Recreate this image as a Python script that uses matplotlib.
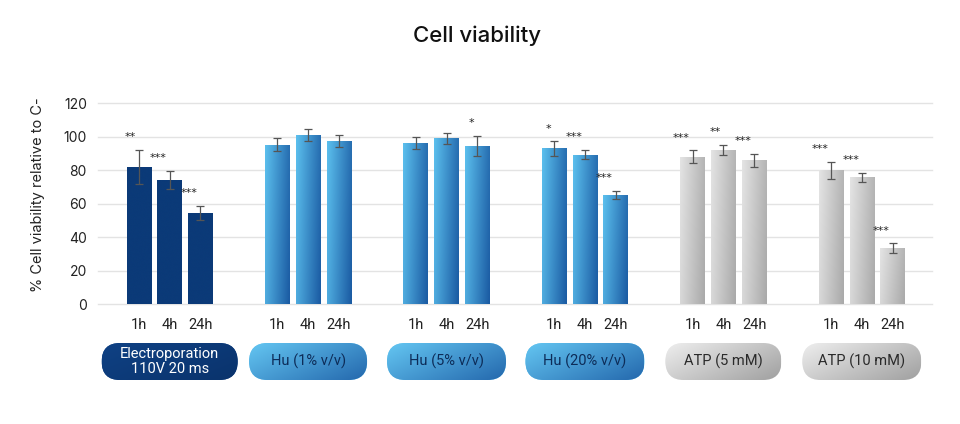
import numpy as np
import matplotlib
matplotlib.use("Agg")
import matplotlib.pyplot as plt
from matplotlib.patches import FancyBboxPatch
from matplotlib.colors import LinearSegmentedColormap

# ---------------- data ----------------
groups = ["Electroporation\n110V 20 ms", "Hu (1% v/v)", "Hu (5% v/v)",
          "Hu (20% v/v)", "ATP (5 mM)", "ATP (10 mM)"]
times = ["1h", "4h", "24h"]
values = [
    [82.0, 74.0, 54.5],
    [95.3, 101.0, 97.5],
    [96.0, 99.0, 94.7],
    [93.0, 89.3, 65.0],
    [88.0, 92.0, 86.0],
    [80.0, 75.8, 33.3],
]
errors = [
    [10.0, 5.5, 4.0],
    [3.8, 3.7, 3.6],
    [3.6, 3.4, 6.0],
    [4.3, 2.9, 2.5],
    [3.8, 3.1, 3.9],
    [5.0, 2.8, 3.0],
]
stars = [
    ["**", "***", "***"],
    ["", "", ""],
    ["", "", "*"],
    ["*", "***", "***"],
    ["***", "**", "***"],
    ["***", "***", "***"],
]
title = "Cell viability"
ylabel = "% Cell viability relative to C-"
yticks = [0, 20, 40, 60, 80, 100, 120]

# ---------------- styles ----------------
styles = [
    dict(bar=("#0b3a78", "#0b3a78"), pill=("#0f4184", "#0a336c"), text="white", pw=136),
    dict(bar=("#5cc0ee", "#1a5aa2"), pill=("#64c6f2", "#2468ad"), text="#0d2c58", pw=118),
    dict(bar=("#5cc0ee", "#1a5aa2"), pill=("#64c6f2", "#2468ad"), text="#0d2c58", pw=119),
    dict(bar=("#5cc0ee", "#1a5aa2"), pill=("#64c6f2", "#2468ad"), text="#0d2c58", pw=119),
    dict(bar=("#e4e4e4", "#a9a9a9"), pill=("#eeeeee", "#a0a0a0"), text="#2a2a2a", pw=116),
    dict(bar=("#e4e4e4", "#a9a9a9"), pill=("#eeeeee", "#a0a0a0"), text="#2a2a2a", pw=119),
]

W, H, DPI = 960, 424, 100
fig = plt.figure(figsize=(W / DPI, H / DPI), dpi=DPI)
fig.patch.set_facecolor("white")
ax = fig.add_axes([98 / W, 120 / H, 834 / W, (304 - 103.3) / H])

GSTEP = 4.5
bar_w = 0.8
xs_all, labels_all = [], []


def grad_img(c1, c2, wx=0.8, wy=0.2, n=64):
    cmap = LinearSegmentedColormap.from_list("g", [c1, c2])
    xx, yy = np.meshgrid(np.linspace(0, 1, n), np.linspace(0, 1, n))
    return cmap(wx * xx + wy * yy)


for gi, (vals, errs, st, sty) in enumerate(zip(values, errors, stars, styles)):
    xs = gi * GSTEP + np.arange(len(times)) - 1
    bars = ax.bar(xs, vals, width=bar_w, color=sty["bar"][0], zorder=2, linewidth=0)
    for b in bars:
        x0, y0 = b.get_x(), b.get_y()
        img = ax.imshow(grad_img(*sty["bar"]), extent=(x0, x0 + b.get_width(), y0, y0 + b.get_height()),
                        origin="upper", aspect="auto", zorder=2.5, interpolation="bicubic")
        img.set_clip_path(b)
    ax.errorbar(xs, vals, yerr=errs, fmt="none", ecolor="#555555", elinewidth=0.9,
                capsize=3, capthick=0.9, zorder=4)
    for x, v, e, s in zip(xs, vals, errs, st):
        if s:
            ax.annotate(s, (x, v + e), xytext=(-2, 7), textcoords="offset points",
                        ha="right", va="baseline", fontsize=8, color="#222222",
                        family="DejaVu Sans", zorder=5)
    xs_all.extend(xs)
    labels_all.extend(times)

ax.set_xlim(-2.33, (len(groups) - 1) * GSTEP + 2.28)
ax.set_ylim(0, 120)
ax.set_yticks(yticks)
ax.set_yticklabels([str(t) for t in yticks], family="Inter", fontsize=10, color="#222222")
ax.set_xticks(xs_all)
ax.set_xticklabels(labels_all, family="Roboto", fontsize=10.5, color="#222222")
ax.tick_params(axis="both", length=0)
ax.tick_params(axis="y", pad=8)
ax.tick_params(axis="x", pad=10)
for sp in ax.spines.values():
    sp.set_visible(False)
ax.set_axisbelow(True)
ax.yaxis.grid(True, color="#e3e3e3", linewidth=1, clip_on=False)
ax.set_facecolor("none")

fig.text(477 / W, 1 - 36 / H, title, ha="center", va="center", family="Inter",
         fontsize=16, fontweight="medium", color="#111111")
fig.text(38 / W, 1 - 195 / H, ylabel, ha="center", va="center", rotation=90,
         family="Inter", fontsize=10.5, color="#222222")

# pills in pixel coordinates
ov = fig.add_axes([0, 0, 1, 1], zorder=-1)
ov.set_xlim(0, W)
ov.set_ylim(H, 0)
ov.axis("off")
ph = 37
py0 = 343
for gi, (name, sty) in enumerate(zip(groups, styles)):
    cx = ax.transData.transform((gi * GSTEP, 0))[0]
    pw = sty["pw"]
    x0 = cx - pw / 2
    patch = FancyBboxPatch((x0, py0), pw, ph, boxstyle=f"round,pad=0,rounding_size={ph/2}",
                           linewidth=0, facecolor=sty["pill"][0], transform=ov.transData, zorder=1)
    ov.add_patch(patch)
    im = ov.imshow(grad_img(*sty["pill"], wx=0.6, wy=0.4), extent=(x0, x0 + pw, py0 + ph, py0),
                   origin="upper", aspect="auto", interpolation="bicubic", zorder=2)
    im.set_clip_path(patch)
    ov.text(cx, py0 + ph / 2, name, ha="center", va="center", family="Roboto",
            fontsize=10.5, color=sty["text"], linespacing=1.1, zorder=3)
ov.set_xlim(0, W)
ov.set_ylim(H, 0)

fig.savefig("out.png", dpi=DPI)
